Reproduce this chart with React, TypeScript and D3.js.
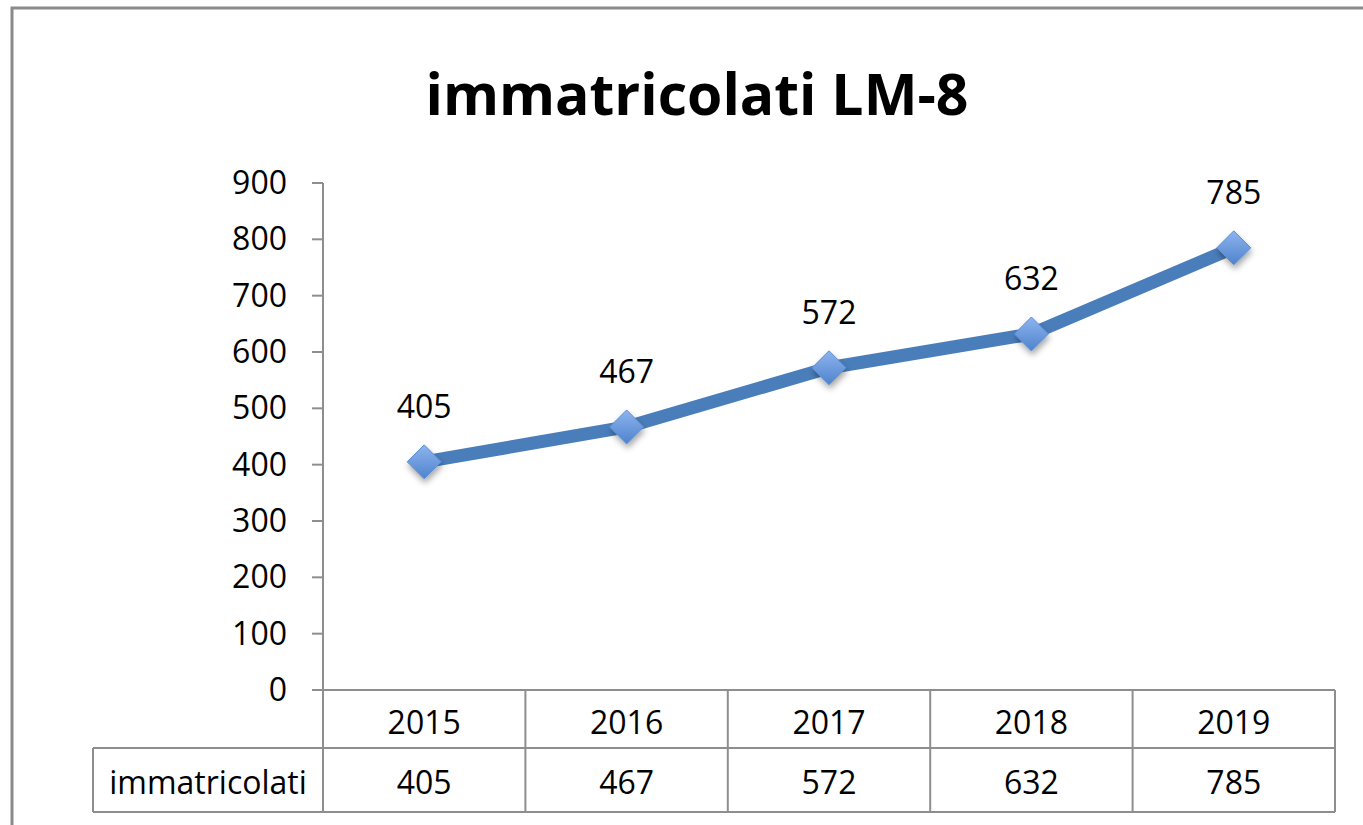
import React from "react";
import * as d3 from "d3";

const title = "immatricolati LM-8";
const seriesName = "immatricolati";
const years = ["2015", "2016", "2017", "2018", "2019"];
const values = [405, 467, 572, 632, 785];
const yTicks = [0, 100, 200, 300, 400, 500, 600, 700, 800, 900];

const W = 1363;
const H = 825;
const FONT = "'Open Sans', 'DejaVu Sans', sans-serif";
const GRID = "#8e8e8e";
const FS = 32;

export default function App() {
  const x0 = 323;
  const x1 = 1335;
  const x = d3.scaleBand<string>().domain(years).range([x0, x1]);
  const y = d3.scaleLinear().domain([0, 900]).range([690, 183]);
  const cx = (c: string) => (x(c) as number) + x.bandwidth() / 2;
  const line = d3
    .line<number>()
    .x((_, i) => cx(years[i]))
    .y((d) => y(d));

  const row1Top = y(0);
  const row1Bot = 748;
  const row2Bot = 812;
  const labelLeft = 93;
  const dSize = 17;

  return (
    <svg
      width={W}
      height={H}
      style={{ position: "absolute", left: 0, top: 0, background: "#fff" }}
      fontFamily={FONT}
    >
      <defs>
        <linearGradient id="mk" x1="0" y1="0" x2="0" y2="1">
          <stop offset="0" stopColor="#8db4ef" />
          <stop offset="1" stopColor="#4f83cc" />
        </linearGradient>
        <filter id="sh" x="-50%" y="-50%" width="200%" height="200%">
          <feDropShadow dx="1" dy="4" stdDeviation="3" floodColor="#000" floodOpacity="0.35" />
        </filter>
      </defs>
      <rect x={0} y={0} width={W} height={H} fill="#fff" />
      <rect x={12} y={8} width={W + 50} height={H + 50} fill="none" stroke="#8a8a8a" strokeWidth={3} />

      <text
        x={697}
        y={115}
        textAnchor="middle"
        fontSize={58}
        fontWeight="bold"
        fill="#000"
        textLength={543}
        lengthAdjust="spacingAndGlyphs"
      >
        {title}
      </text>

      <line x1={x0} x2={x0} y1={y(900)} y2={row2Bot} stroke={GRID} strokeWidth={2} />
      {yTicks.map((t) => (
        <g key={t}>
          <line x1={x0 - 11} x2={x0} y1={y(t)} y2={y(t)} stroke={GRID} strokeWidth={2} />
          <text x={287} y={y(t) + 11} textAnchor="end" fontSize={FS} fill="#000">
            {t}
          </text>
        </g>
      ))}

      <line x1={x0} x2={x1} y1={row1Top} y2={row1Top} stroke={GRID} strokeWidth={2} />
      <line x1={labelLeft} x2={x1} y1={row1Bot} y2={row1Bot} stroke={GRID} strokeWidth={2} />
      <line x1={labelLeft} x2={x1} y1={row2Bot} y2={row2Bot} stroke={GRID} strokeWidth={2} />
      <line x1={labelLeft} x2={labelLeft} y1={row1Bot} y2={row2Bot} stroke={GRID} strokeWidth={2} />
      {years.map((c) => (
        <line
          key={"v" + c}
          x1={(x(c) as number) + x.bandwidth()}
          x2={(x(c) as number) + x.bandwidth()}
          y1={row1Top}
          y2={row2Bot}
          stroke={GRID}
          strokeWidth={2}
        />
      ))}
      {years.map((c) => (
        <text key={"h" + c} x={cx(c)} y={734} textAnchor="middle" fontSize={FS} fill="#000">
          {c}
        </text>
      ))}
      <text x={(labelLeft + x0) / 2} y={794} textAnchor="middle" fontSize={FS} fill="#000">
        {seriesName}
      </text>
      {values.map((v, i) => (
        <text key={"r" + i} x={cx(years[i])} y={794} textAnchor="middle" fontSize={FS} fill="#000">
          {v}
        </text>
      ))}

      <path d={line(values) || ""} fill="none" stroke="#4a7ebb" strokeWidth={13} strokeLinejoin="round" />
      {values.map((v, i) => {
        const px = cx(years[i]);
        const py = y(v);
        return (
          <path
            key={"m" + i}
            d={`M${px},${py - dSize}L${px + dSize},${py}L${px},${py + dSize}L${px - dSize},${py}Z`}
            fill="url(#mk)"
            stroke="#5a8fd6"
            strokeWidth={1}
            filter="url(#sh)"
          />
        );
      })}
      {values.map((v, i) => (
        <text key={"l" + i} x={cx(years[i])} y={y(v) - 44} textAnchor="middle" fontSize={FS} fill="#000">
          {v}
        </text>
      ))}
    </svg>
  );
}
